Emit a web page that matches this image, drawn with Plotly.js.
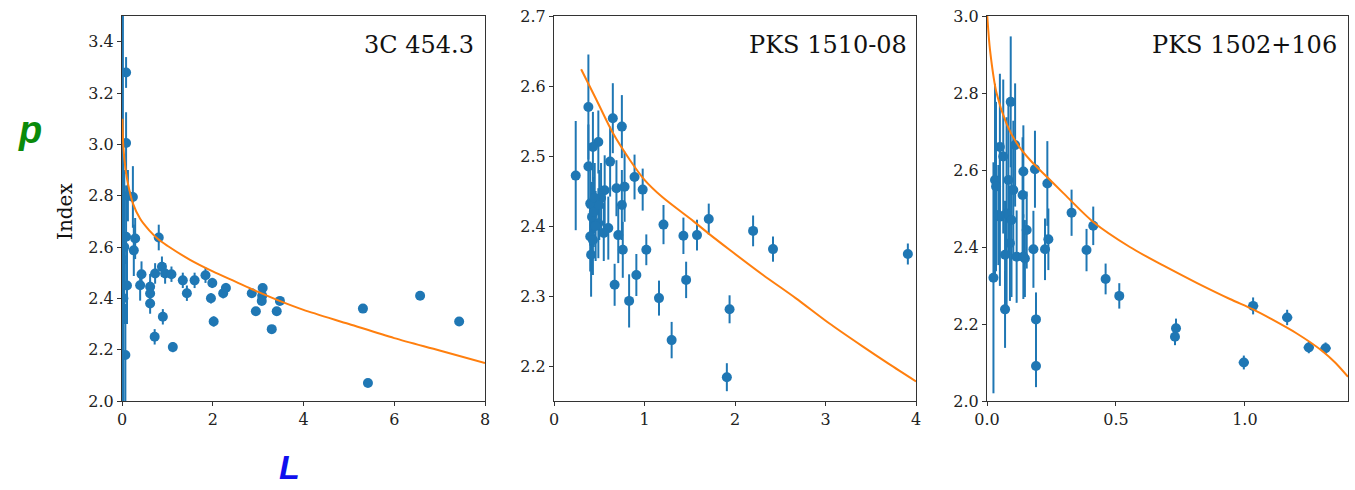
<!DOCTYPE html>
<html>
<head>
<meta charset="utf-8">
<script src="https://cdn.plot.ly/plotly-3.0.1.min.js"></script>
<style>html,body{margin:0;padding:0;background:#fff;}#chart{width:1355px;height:490px;}</style>
</head>
<body>
<div id="chart"></div>
<script>
// ---- Panel 1: 3C 454.3 ----
const p1_L   = [0.02, 0.03, 0.05, 0.09, 0.09, 0.13, 0.24, 0.09, 0.29, 0.26, 0.11, 0.074, 0.43, 0.40, 0.62, 0.62, 0.62, 0.73, 0.88, 0.95, 1.09, 0.90, 0.72, 1.12, 0.81, 1.34, 1.43, 1.60, 1.84, 1.99, 1.96, 2.02, 2.23, 2.29, 2.86, 2.95, 3.10, 3.09, 3.08, 3.30, 3.41, 3.48, 5.31, 5.42, 6.57, 7.43];
const p1_p   = [2.55, 2.40, 2.60, 3.28, 3.005, 2.80, 2.795, 2.64, 2.633, 2.587, 2.45, 2.179, 2.494, 2.451, 2.445, 2.419, 2.38, 2.497, 2.523, 2.497, 2.494, 2.328, 2.25, 2.21, 2.637, 2.47, 2.42, 2.47, 2.49, 2.46, 2.40, 2.31, 2.42, 2.44, 2.42, 2.35, 2.44, 2.41, 2.39, 2.28, 2.35, 2.39, 2.36, 2.07, 2.41, 2.31];
const p1_err = [0.95, 0.55, 0.30, 0.06, 0.12, 0.10, 0.12, 0.20, 0.08, 0.10, 0.15, 0.20, 0.05, 0.06, 0.05, 0.05, 0.04, 0.04, 0.04, 0.04, 0.03, 0.03, 0.03, 0.02, 0.05, 0.03, 0.03, 0.03, 0.03, 0.02, 0.02, 0.02, 0.02, 0.02, 0.015, 0.015, 0.015, 0.015, 0.015, 0.015, 0.015, 0.015, 0.012, 0.012, 0.012, 0.012];
const p1_fitL = [0.01, 0.03, 0.08, 0.14, 0.24, 0.40, 0.60, 0.80, 1.00, 1.50, 2.00, 2.50, 3.00, 3.50, 4.00, 5.00, 6.00, 7.00, 8.00];
const p1_fitP = [3.10, 2.99, 2.90, 2.84, 2.77, 2.71, 2.665, 2.63, 2.605, 2.55, 2.505, 2.465, 2.425, 2.388, 2.355, 2.30, 2.245, 2.197, 2.148];

// ---- Panel 2: PKS 1510-08 ----
const p2_L   = [0.24, 0.38, 0.65, 0.75, 0.49, 0.43, 0.38, 0.62, 0.89, 0.98, 0.78, 0.69, 0.56, 0.40, 0.75, 0.42, 0.49, 0.60, 0.40, 0.71, 0.76, 0.41, 1.02, 1.21, 0.67, 0.91, 0.83, 1.16, 1.30, 1.43, 1.58, 1.71, 1.46, 1.94, 1.91, 2.20, 2.42, 3.91, 0.44, 0.46, 0.52, 0.45, 0.55, 0.43, 0.50];
const p2_p   = [2.472, 2.57, 2.554, 2.542, 2.52, 2.513, 2.485, 2.492, 2.47, 2.452, 2.456, 2.454, 2.451, 2.432, 2.43, 2.413, 2.404, 2.397, 2.385, 2.387, 2.366, 2.359, 2.366, 2.402, 2.316, 2.33, 2.293, 2.297, 2.237, 2.386, 2.387, 2.41, 2.323, 2.281, 2.184, 2.393, 2.367, 2.36, 2.42, 2.40, 2.44, 2.44, 2.39, 2.38, 2.43];
const p2_err = [0.078, 0.075, 0.05, 0.045, 0.045, 0.05, 0.06, 0.05, 0.032, 0.03, 0.05, 0.04, 0.05, 0.06, 0.05, 0.05, 0.05, 0.045, 0.05, 0.04, 0.04, 0.06, 0.022, 0.028, 0.03, 0.03, 0.038, 0.025, 0.026, 0.026, 0.022, 0.022, 0.026, 0.02, 0.02, 0.022, 0.018, 0.015, 0.05, 0.05, 0.05, 0.05, 0.04, 0.05, 0.05];
const p2_fitL = [0.30, 0.47, 0.654, 0.84, 1.00, 1.20, 1.54, 1.72, 1.94, 2.31, 2.67, 3.04, 3.41, 3.70, 4.00];
const p2_fitP = [2.624, 2.58, 2.532, 2.494, 2.466, 2.441, 2.407, 2.388, 2.366, 2.33, 2.297, 2.261, 2.228, 2.203, 2.178];

// ---- Panel 3: PKS 1502+106 ----
const p3_L   = [0.025, 0.07, 0.19, 0.19, 0.18, 0.328, 0.386, 0.412, 0.46, 0.513, 0.733, 0.729, 0.996, 1.032, 1.164, 1.248, 1.313, 0.238, 0.225, 0.154, 0.147, 0.115, 0.092, 0.109, 0.186, 0.141, 0.234, 0.138, 0.031, 0.035, 0.05, 0.063, 0.083, 0.102, 0.076, 0.095, 0.05, 0.141, 0.089, 0.07, 0.044];
const p3_p   = [2.32, 2.238, 2.212, 2.091, 2.394, 2.489, 2.392, 2.455, 2.317, 2.273, 2.189, 2.167, 2.10, 2.247, 2.217, 2.139, 2.137, 2.42, 2.394, 2.444, 2.37, 2.375, 2.777, 2.665, 2.602, 2.596, 2.565, 2.535, 2.574, 2.557, 2.66, 2.635, 2.574, 2.548, 2.487, 2.47, 2.479, 2.375, 2.41, 2.38, 2.483];
const p3_err = [0.30, 0.10, 0.07, 0.055, 0.10, 0.06, 0.055, 0.05, 0.04, 0.033, 0.025, 0.022, 0.018, 0.022, 0.02, 0.015, 0.015, 0.08, 0.08, 0.10, 0.10, 0.12, 0.17, 0.16, 0.10, 0.12, 0.11, 0.15, 0.25, 0.22, 0.19, 0.20, 0.2, 0.18, 0.25, 0.2, 0.18, 0.11, 0.15, 0.14, 0.13];
const p3_errL = [0, 0, 0, 0, 0, 0.012, 0.012, 0.012, 0.012, 0.012, 0.014, 0.014, 0.02, 0.02, 0.02, 0.02, 0.02, 0, 0, 0, 0, 0, 0, 0, 0, 0, 0, 0, 0, 0, 0, 0, 0, 0, 0, 0, 0, 0, 0, 0, 0];
const p3_fitL = [0.001, 0.012, 0.037, 0.076, 0.115, 0.167, 0.231, 0.296, 0.412, 0.554, 0.683, 0.813, 0.942, 1.032, 1.10, 1.20, 1.30, 1.35, 1.40];
const p3_fitP = [3.0, 2.91, 2.80, 2.72, 2.67, 2.626, 2.583, 2.54, 2.465, 2.40, 2.352, 2.307, 2.265, 2.238, 2.214, 2.176, 2.13, 2.10, 2.063];

const panelNames = ["3C 454.3", "PKS 1510-08", "PKS 1502+106"];

const BLUE = "#1f77b4", ORANGE = "#ff7f0e";
const SERIF = "DejaVu Serif, Liberation Serif, serif";

function pts(x, y, e, ex, ax) {
  const t = {
    x: x, y: y, type: "scatter", mode: "markers",
    xaxis: ax[0], yaxis: ax[1],
    marker: {color: BLUE, size: 10},
    error_y: {type: "data", array: e, visible: true, color: BLUE, thickness: 2, width: 0},
    showlegend: false, hoverinfo: "x+y"
  };
  if (ex) t.error_x = {type: "data", array: ex, visible: true, color: BLUE, thickness: 2, width: 0};
  return t;
}
function fit(x, y, ax) {
  return {x: x, y: y, type: "scatter", mode: "lines", xaxis: ax[0], yaxis: ax[1],
    line: {color: ORANGE, width: 2, shape: "spline", smoothing: 0.8}, showlegend: false, hoverinfo: "skip"};
}

const data = [
  pts(p1_L, p1_p, p1_err, null, ["x", "y"]),
  fit(p1_fitL, p1_fitP, ["x", "y"]),
  pts(p2_L, p2_p, p2_err, null, ["x2", "y2"]),
  fit(p2_fitL, p2_fitP, ["x2", "y2"]),
  pts(p3_L, p3_p, p3_err, p3_errL, ["x3", "y3"]),
  fit(p3_fitL, p3_fitP, ["x3", "y3"])
];

const W = 1355, H = 490;
const yDom = [1 - 401 / H, 1 - 16 / H];
function axBase(extra) {
  return Object.assign({
    showline: true, mirror: true, linecolor: "#333", linewidth: 1,
    ticks: "outside", ticklen: 4, tickwidth: 1, tickcolor: "#333",
    showgrid: false, zeroline: false,
    tickfont: {family: SERIF, size: 16, color: "#222"}
  }, extra);
}

const layout = {
  width: W, height: H,
  margin: {l: 0, r: 0, t: 0, b: 0},
  paper_bgcolor: "#fff", plot_bgcolor: "#fff",
  xaxis: axBase({domain: [122 / W, 485 / W], range: [0, 8], tickvals: [0, 2, 4, 6, 8], anchor: "y"}),
  yaxis: axBase({domain: yDom, range: [2.0, 3.5], tickvals: [2.0, 2.2, 2.4, 2.6, 2.8, 3.0, 3.2, 3.4], tickformat: ".1f", anchor: "x"}),
  xaxis2: axBase({domain: [554 / W, 916 / W], range: [0, 4], tickvals: [0, 1, 2, 3, 4], anchor: "y2"}),
  yaxis2: axBase({domain: yDom, range: [2.15, 2.7], tickvals: [2.2, 2.3, 2.4, 2.5, 2.6, 2.7], tickformat: ".1f", anchor: "x2"}),
  xaxis3: axBase({domain: [987 / W, 1348 / W], range: [0, 1.4], tickvals: [0, 0.5, 1.0], tickformat: ".1f", anchor: "y3"}),
  yaxis3: axBase({domain: yDom, range: [2.0, 3.0], tickvals: [2.0, 2.2, 2.4, 2.6, 2.8, 3.0], tickformat: ".1f", anchor: "x3"}),
  annotations: [
    {text: panelNames[0], xref: "paper", yref: "paper", x: 476 / W, y: 1 - 45 / H, xanchor: "right", yanchor: "middle", showarrow: false, font: {family: SERIF, size: 24, color: "#111"}},
    {text: panelNames[1], xref: "paper", yref: "paper", x: 909 / W, y: 1 - 45 / H, xanchor: "right", yanchor: "middle", showarrow: false, font: {family: SERIF, size: 24, color: "#111"}},
    {text: panelNames[2], xref: "paper", yref: "paper", x: 1339 / W, y: 1 - 45 / H, xanchor: "right", yanchor: "middle", showarrow: false, font: {family: SERIF, size: 24, color: "#111"}},
    {text: "Index", xref: "paper", yref: "paper", x: 65 / W, y: 1 - 212 / H, xanchor: "center", yanchor: "middle", textangle: -90, showarrow: false, font: {family: SERIF, size: 20, color: "#111"}},
    {text: "<b><i>p</i></b>", xref: "paper", yref: "paper", x: 30 / W, y: 1 - 130 / H, xanchor: "center", yanchor: "middle", showarrow: false, font: {family: "Liberation Sans, Arial, sans-serif", size: 38, color: "#0a8a0a"}},
    {text: "<b><i>L</i></b>", xref: "paper", yref: "paper", x: 289 / W, y: 1 - 467 / H, xanchor: "center", yanchor: "middle", showarrow: false, font: {family: "Liberation Sans, Arial, sans-serif", size: 34, color: "#1010ee"}}
  ]
};

Plotly.newPlot("chart", data, layout, {displayModeBar: false, staticPlot: true});
</script>
</body>
</html>
